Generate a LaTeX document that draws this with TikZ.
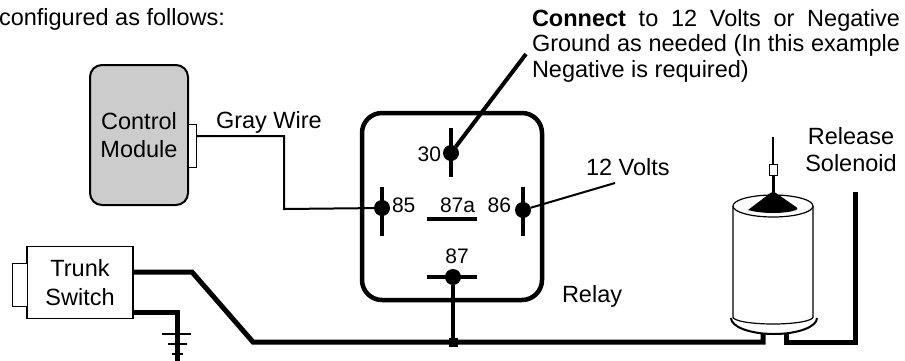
\documentclass[tikz,border=0pt]{standalone}
\usepackage{fontspec}
\setmainfont{Liberation Sans}
\usetikzlibrary{positioning}
\begin{document}
\begin{tikzpicture}[x=1pt,y=-1pt,
  every node/.style={inner sep=0pt,outer sep=0pt,font=\fontsize{23.5}{28.5}\selectfont},
  pindot/.style={circle,fill=black,minimum size=16pt},
  pinnum/.style={font=\fontsize{21}{24}\selectfont},
  heavy/.style={line width=5pt},
  wire/.style={line width=2pt},
  blade/.style={line width=4pt}]
\useasboundingbox (0,0) rectangle (905,360);

% heading and notes
\node[anchor=base west] (head) at (-1,25) {configured as follows:};
\node[anchor=north west,align=left,font=\fontsize{23.5}{25.7}\selectfont] (note) at (532,9)
  {\makebox[368pt][s]{\textbf{Connect} to 12 Volts or Negative}\\
   \makebox[368pt][s]{Ground as needed (In this example}\\
   Negative is required)};

% control module
\node[draw,line width=2pt,fill=black!20,rounded corners=12pt,minimum width=98pt,minimum height=140pt,align=center] (ctrl) at (139,135) {Control\\Module};
\node[draw,line width=1pt,fill=white,minimum width=8pt,minimum height=43pt] (tab) at (192,145.5) {};
\node[anchor=base west] (gray) at (216,128) {Gray Wire};

% relay
\node[draw,line width=4.5pt,rounded corners=20pt,minimum width=180pt,minimum height=187pt] (relay) at (452,206.5) {};
\draw[blade] (451,128) -- (451,177);
\draw[blade] (382,187) -- (382,236);
\draw[blade] (523,187) -- (523,236);
\draw[blade] (427,219) -- (477,219);
\draw[blade] (427,277) -- (477,277);
\node[pindot] (p30) at (451,153) {};
\node[pindot] (p85) at (382,208) {};
\node[pindot] (p86) at (523,210) {};
\node[pindot] (p87) at (453,277) {};
\node[pinnum,anchor=base east] at (441,161) {30};
\node[pinnum,anchor=base west] at (392,212) {85};
\node[pinnum,anchor=base west] at (440,212) {87a};
\node[pinnum,anchor=base east] at (511,212) {86};
\node[pinnum,anchor=base] at (457,263) {87};
\node[anchor=base west] (rlabel) at (562,302) {Relay};
\node[anchor=base west] (volts) at (586,175) {12 Volts};

% trunk switch and ground
\node[draw,line width=1.2pt,fill=white,minimum width=106pt,minimum height=72pt,align=center] (trunk) at (80,282.5) {Trunk\\Switch};
\node[draw,line width=1pt,fill=white,minimum width=15pt,minimum height=43pt,anchor=east] (plug) at (27,284.5) {};
\draw[wire] (162,334) -- (191,334);
\draw[wire] (168,344) -- (187,344);
\draw[wire] (172,354) -- (183,354);

% release solenoid
\draw[line width=1.2pt] (773,137) -- (773,164);
\draw[line width=1pt,fill=white] (769,164) rectangle (777,175);
\draw[line width=3pt] (773,175) -- (773,193);
\path[draw,line width=2pt,fill=white] (731,318) arc[start angle=180,end angle=0,x radius=43,y radius=16];
\draw[line width=1.2pt,fill=white] (733,206) -- (733,317) arc[start angle=180,end angle=0,x radius=40,y radius=7] -- (813,206);
\draw[line width=1.2pt,fill=white] (773,206) ellipse[x radius=40,y radius=11];
\fill[rounded corners=3pt] (748,210) -- (773,191) -- (799,209) [sharp corners] .. controls (785,214) and (762,214) .. cycle;
\node[align=center,font=\fontsize{23.5}{27}\selectfont] (sol) at (851,150) {Release\\Solenoid};

% wiring
\coordinate (gw) at (196,136);
\coordinate (cn) at (526,54);
\coordinate (vn) at (615,183);
\coordinate (sw1) at (133,272);
\coordinate (sw2) at (133,312);
\node[fill=black,minimum size=9pt] (jn) at (453,342) {};
\draw[wire] (gw) -- (284,136) -- (284,209) -- (p85);
\draw[blade] (p30) -- (cn);
\draw[wire] (p86) -- (vn);
\draw[heavy] (sw1) -- (192,272) -- (253,342) -- (763,342) -- (763,333);
\draw[heavy] (sw2) -- (177,312) -- (177,362);
\draw[blade] (p87) -- (jn);
\draw[heavy] (786,333) -- (786,342) -- (855,342) -- (855,192);
\end{tikzpicture}
\end{document}
